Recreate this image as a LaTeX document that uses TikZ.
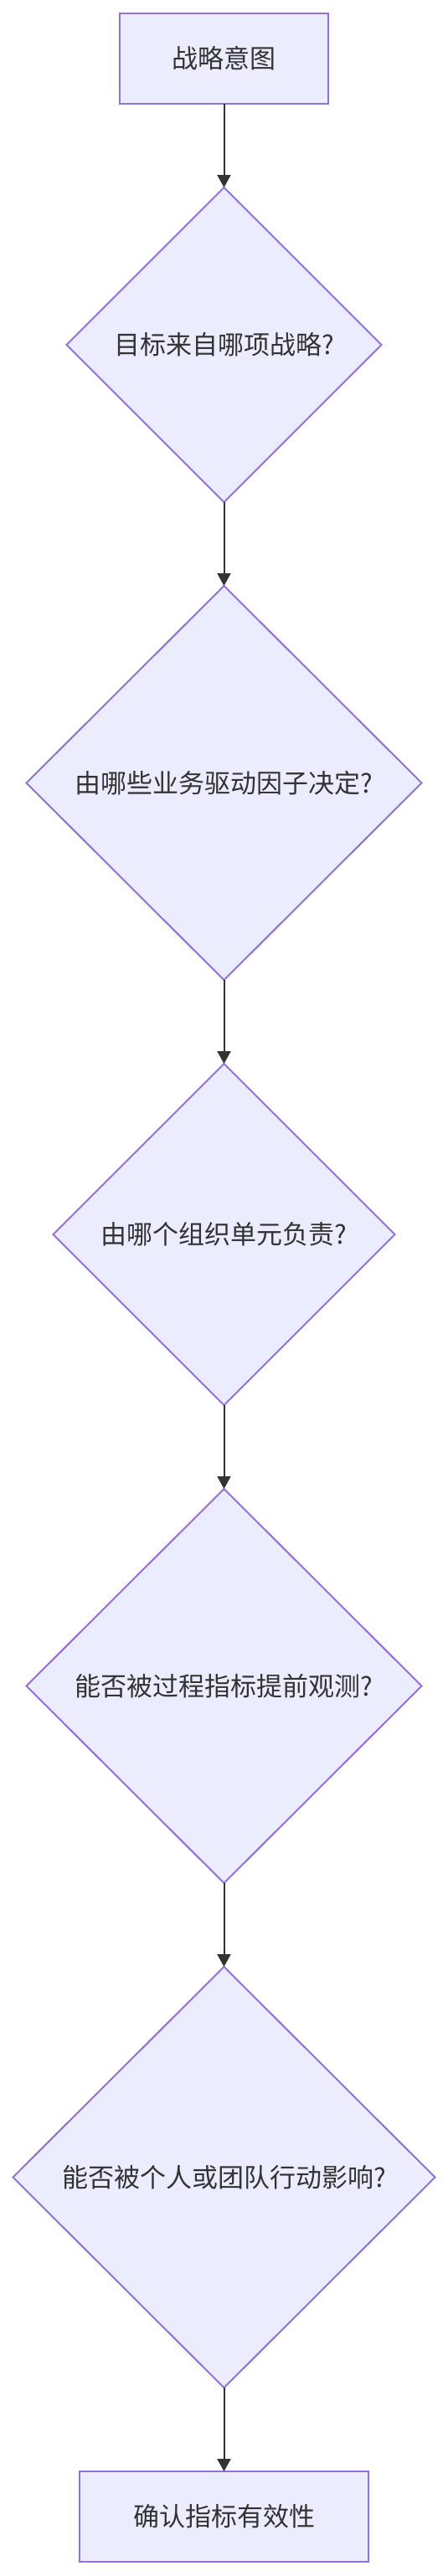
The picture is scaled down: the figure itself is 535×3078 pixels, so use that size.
\documentclass[tikz,border=0pt]{standalone}
\usepackage{fontspec}
\setmainfont{Noto Sans CJK SC}
\usetikzlibrary{shapes.geometric,chains,positioning,arrows.meta}
\definecolor{nodefill}{HTML}{ECECFF}
\definecolor{nodeline}{HTML}{9370DB}
\definecolor{inkgray}{HTML}{333333}

\begin{document}
\begin{tikzpicture}[x=1pt,y=-1pt]
        \tikzstyle{every path}=[line width=2pt]
        \tikzstyle{every node}=[font=\fontsize{31}{36}\selectfont, text=inkgray]

        \tikzstyle{box}=[draw=nodeline, fill=nodefill, minimum height=108pt, inner sep=0pt, outer sep=0pt]
        \tikzstyle{ask}=[diamond, aspect=1, draw=nodeline, fill=nodefill, inner sep=0pt, outer sep=0pt]
        \tikzstyle{flow}=[draw=inkgray, -{Triangle[width=16pt,length=15pt]}]

        \useasboundingbox (0,0) rectangle (535,3078);

        \begin{scope}[start chain=going below,node distance=100pt]
        \node [on chain,box,minimum width=249pt] at (267.5,70) (intent) {战略意图};
        \node [on chain,ask,minimum width=376pt,minimum height=376pt] (source) {目标来自哪项战略?};
        \node [on chain,ask,minimum width=472pt,minimum height=471pt] (driver) {由哪些业务驱动因子决定?};
        \node [on chain,ask,minimum width=408pt,minimum height=408pt] (owner) {由哪个组织单元负责?};
        \node [on chain,ask,minimum width=472pt,minimum height=471pt] (lead) {能否被过程指标提前观测?};
        \node [on chain,ask,minimum width=504pt,minimum height=503pt] (action) {能否被个人或团队行动影响?};
        \node [on chain,box,minimum width=345pt] (valid) {确认指标有效性};
        \end{scope}

        \draw[flow] (intent.south) to (source.north);   % intent->source
        \draw[flow] (source.south) to (driver.north);   % source->driver
        \draw[flow] (driver.south) to (owner.north);    % driver->owner
        \draw[flow] (owner.south) to (lead.north);      % owner->lead
        \draw[flow] (lead.south) to (action.north);     % lead->action
        \draw[flow] (action.south) to (valid.north);    % action->valid

\end{tikzpicture}
\end{document}
